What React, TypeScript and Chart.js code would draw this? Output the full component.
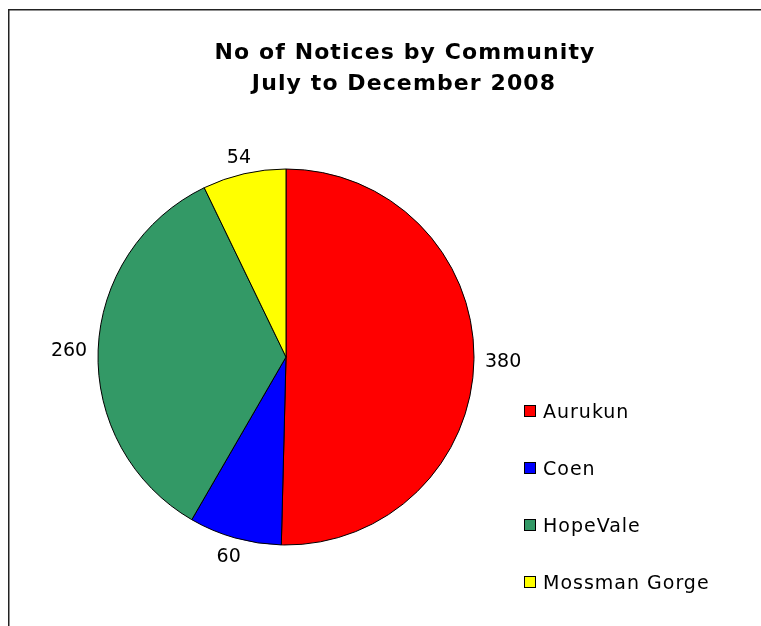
import React, { useEffect, useRef } from "react";
import { Chart, registerables } from "chart.js";

Chart.register(...registerables);

const titleLines = ["No of Notices by Community", "July to December 2008"];
const communities = ["Aurukun", "Coen", "HopeVale", "Mossman Gorge"];
const notices = [380, 60, 260, 54];
const sliceColors = ["#FF0000", "#0000FF", "#339966", "#FFFF00"];

const FONT = '"DejaVu Sans", Verdana, sans-serif';

const decorPlugin = {
  id: "decor",
  beforeDraw(chart: any) {
    const ctx = chart.ctx;
    ctx.save();
    ctx.fillStyle = "#ffffff";
    ctx.fillRect(0, 0, chart.width, chart.height);
    // outer border (top + left visible; the box continues past the window)
    ctx.strokeStyle = "#222222";
    ctx.lineWidth = 1.5;
    ctx.beginPath();
    ctx.moveTo(chart.width + 5, 1.75);
    ctx.lineTo(0.75, 1.75);
    ctx.lineTo(0.75, chart.height + 5);
    ctx.stroke();
    // title
    ctx.fillStyle = "#000000";
    ctx.font = `bold 22px ${FONT}`;
    (ctx as any).letterSpacing = "1.1px";
    ctx.textAlign = "center";
    ctx.textBaseline = "alphabetic";
    ctx.fillText(titleLines[0], 397, 51);
    ctx.fillText(titleLines[1], 396, 82);
    ctx.restore();
  },
  afterDatasetsDraw(chart: any) {
    const ctx = chart.ctx;
    const meta = chart.getDatasetMeta(0);
    const values = chart.data.datasets[0].data as number[];
    ctx.save();
    // data labels outside the slices
    ctx.font = `19px ${FONT}`;
    ctx.fillStyle = "#000000";
    ctx.textAlign = "center";
    ctx.textBaseline = "alphabetic";
    meta.data.forEach((arc: any, i: number) => {
      const p = arc.getProps(["x", "y", "startAngle", "endAngle", "outerRadius"], true);
      const mid = (p.startAngle + p.endAngle) / 2;
      const txt = String(values[i]);
      const w = ctx.measureText(txt).width;
      const h = 14;
      const r = p.outerRadius + 11;
      const cx = p.x + Math.cos(mid) * r + Math.cos(mid) * (w / 2);
      const cy = p.y + Math.sin(mid) * r + Math.sin(mid) * (h / 2);
      ctx.fillText(txt, cx, cy + 7);
    });
    // legend
    const labels = chart.data.labels as string[];
    const colors = chart.data.datasets[0].backgroundColor as string[];
    ctx.font = `19px ${FONT}`;
    (ctx as any).letterSpacing = "1px";
    ctx.textAlign = "left";
    labels.forEach((lab: string, i: number) => {
      const top = 397.5 + i * 57;
      ctx.fillStyle = colors[i];
      ctx.fillRect(516.5, top, 11, 11);
      ctx.strokeStyle = "#000000";
      ctx.lineWidth = 1;
      ctx.strokeRect(516.5, top, 11, 11);
      ctx.fillStyle = "#000000";
      ctx.fillText(lab, 535, top + 12);
    });
    ctx.restore();
  },
};

export default function App() {
  const ref = useRef<HTMLCanvasElement | null>(null);
  useEffect(() => {
    if (!ref.current) return;
    const chart = new Chart(ref.current, {
      type: "pie",
      data: {
        labels: communities,
        datasets: [
          {
            data: notices,
            backgroundColor: sliceColors,
            borderColor: "#000000",
            borderWidth: 1,
            radius: 188,
            hoverOffset: 0,
            offset: 0,
          } as any,
        ],
      },
      options: {
        responsive: false,
        animation: false,
        events: [],
        layout: { padding: { left: 78, right: 275, top: 149, bottom: 69 } },
        plugins: {
          legend: { display: false },
          title: { display: false },
          tooltip: { enabled: false },
        },
      } as any,
      plugins: [decorPlugin],
    });
    return () => chart.destroy();
  }, []);
  return (
    <div style={{ width: 745, height: 610 }}>
      <canvas
        ref={ref}
        width={753}
        height={618}
        style={{
          display: "block",
          position: "fixed",
          left: 8,
          top: 8,
          width: 753,
          height: 618,
        }}
      />
    </div>
  );
}
